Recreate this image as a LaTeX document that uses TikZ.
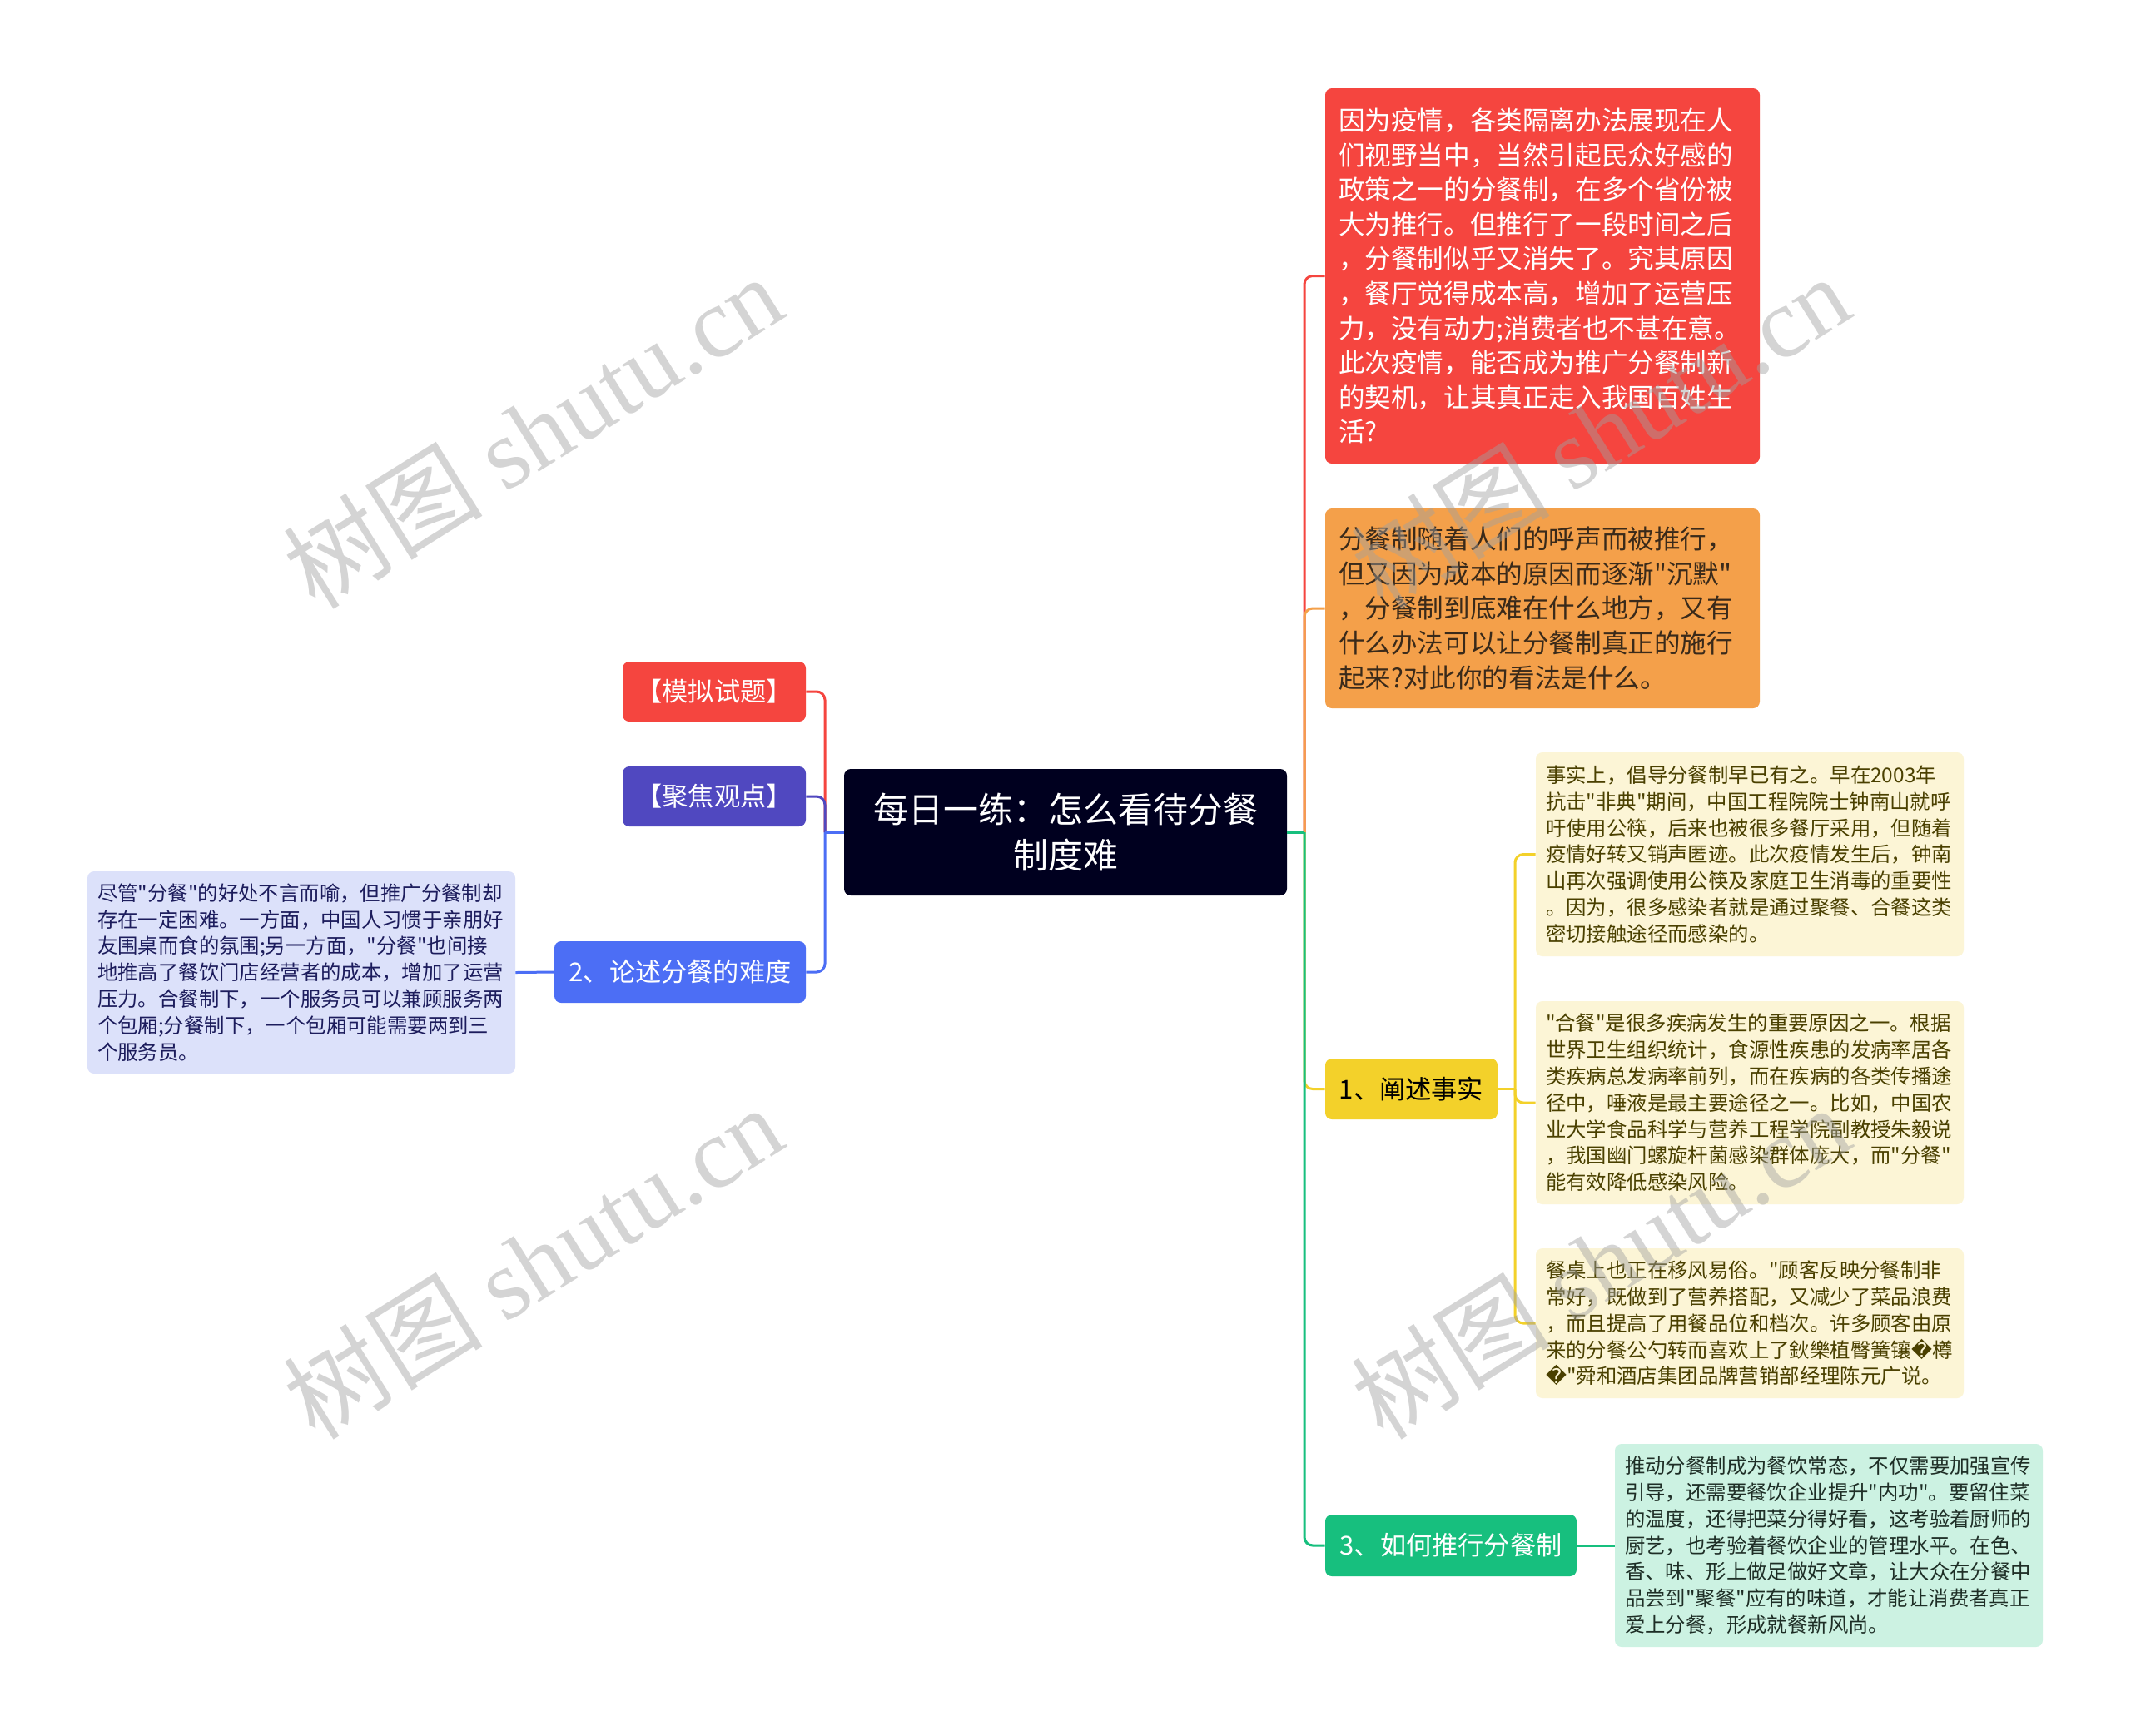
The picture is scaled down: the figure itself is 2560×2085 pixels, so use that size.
\documentclass[tikz,border=0pt]{standalone}
\usepackage{fontspec}
\setmainfont{Noto Sans CJK SC}
\newfontfamily\cjk{Noto Sans CJK SC}
\newfontfamily\wmserif{Liberation Serif}
\newfontfamily\djv{DejaVu Sans}
\definecolor{cRed}{HTML}{F5453F}
\definecolor{cPur}{HTML}{5048C0}
\definecolor{cBlue}{HTML}{4C6EF5}
\definecolor{cOra}{HTML}{F4A04A}
\definecolor{cYel}{HTML}{F3D12A}
\definecolor{cGrn}{HTML}{17BF7E}
\definecolor{cNavy}{HTML}{00001F}
\definecolor{fBlue}{HTML}{DCE1FA}
\definecolor{tBlue}{HTML}{1C1C5C}
\definecolor{fYel}{HTML}{FCF5D6}
\definecolor{tYel}{HTML}{4A4000}
\definecolor{fGrn}{HTML}{CCF2E2}
\definecolor{tGrn}{HTML}{1E2E26}
\definecolor{tOra}{HTML}{3A2A1A}
\definecolor{wmgray}{HTML}{A0A0A0}
\tikzset{
  base/.style={rounded corners=4pt, inner sep=0pt, draw=none},
  lvlone/.style={base, font=\cjk\fontsize{15.6}{18}\selectfont, align=center},
  detail/.style={base, font=\cjk\fontsize{12.2}{15.9}\selectfont, align=left, inner xsep=6pt, text width=245pt},
  bigbox/.style={base, font=\cjk\fontsize{15.8}{20.8}\selectfont, align=left, inner xsep=8pt, text width=245pt},
  conn/.style={line width=1.5pt, rounded corners=5pt},
  wm/.style={text=wmgray, opacity=0.45, font=\cjk\fontsize{60}{60}\selectfont, rotate=32, inner sep=0pt}
}
\begin{document}
\begin{tikzpicture}[x=0.5pt,y=-0.5pt]
\useasboundingbox (0,0) rectangle (2560,2085);
\fill[white] (0,0) rectangle (2560,2085);

% center
\node[base, fill=cNavy, text=white, minimum width=266pt, minimum height=76pt,
  font=\cjk\fontsize{21}{27.8}\selectfont, align=center] (ctr) at (1280,1000) {每日一练：怎么看待分餐\\制度难};

% left side
\node[lvlone, fill=cRed, text=white, minimum width=110pt, minimum height=36pt] (mn) at (858,831) {【模拟试题】};
\node[lvlone, fill=cPur, text=white, minimum width=110pt, minimum height=36pt] (jj) at (858,957) {【聚焦观点】};
\node[lvlone, fill=cBlue, text=white, minimum width=151pt, minimum height=37pt] (ls) at (817,1168) {2、论述分餐的难度};
\node[detail, fill=fBlue, text=tBlue, minimum height=121.5pt] (lsd) at (362,1168.5) {尽管"分餐"的好处不言而喻，但推广分餐制却\\存在一定困难。一方面，中国人习惯于亲朋好\\友围桌而食的氛围;另一方面，"分餐"也间接\\地推高了餐饮门店经营者的成本，增加了运营\\压力。合餐制下，一个服务员可以兼顾服务两\\个包厢;分餐制下，一个包厢可能需要两到三\\个服务员。};

% right side
\node[bigbox, fill=cRed, text=white, minimum height=225.5pt] (qa) at (1853,331.5) {因为疫情，各类隔离办法展现在人\\们视野当中，当然引起民众好感的\\政策之一的分餐制，在多个省份被\\大为推行。但推行了一段时间之后\\，分餐制似乎又消失了。究其原因\\，餐厅觉得成本高，增加了运营压\\力，没有动力;消费者也不甚在意。\\此次疫情，能否成为推广分餐制新\\的契机，让其真正走入我国百姓生\\活?};
\node[bigbox, fill=cOra, text=tOra, minimum height=120pt] (qb) at (1853,731) {分餐制随着人们的呼声而被推行，\\但又因为成本的原因而逐渐"沉默"\\，分餐制到底难在什么地方，又有\\什么办法可以让分餐制真正的施行\\起来?对此你的看法是什么。};
\node[lvlone, fill=cYel, text=black, minimum width=103.5pt, minimum height=36.5pt] (sa) at (1695.5,1308.5) {1、阐述事实};
\node[detail, fill=fYel, text=tYel, minimum height=122.5pt] (da) at (2102,1026.5) {事实上，倡导分餐制早已有之。早在2003年\\抗击"非典"期间，中国工程院院士钟南山就呼\\吁使用公筷，后来也被很多餐厅采用，但随着\\疫情好转又销声匿迹。此次疫情发生后，钟南\\山再次强调使用公筷及家庭卫生消毒的重要性\\。因为，很多感染者就是通过聚餐、合餐这类\\密切接触途径而感染的。};
\node[detail, fill=fYel, text=tYel, minimum height=122pt] (db) at (2102,1325) {"合餐"是很多疾病发生的重要原因之一。根据\\世界卫生组织统计，食源性疾患的发病率居各\\类疾病总发病率前列，而在疾病的各类传播途\\径中，唾液是最主要途径之一。比如，中国农\\业大学食品科学与营养工程学院副教授朱毅说\\，我国幽门螺旋杆菌感染群体庞大，而"分餐"\\能有效降低感染风险。};
\node[detail, fill=fYel, text=tYel, minimum height=90pt] (dc) at (2102,1590) {餐桌上也正在移风易俗。"顾客反映分餐制非\\常好，既做到了营养搭配，又减少了菜品浪费\\，而且提高了用餐品位和档次。许多顾客由原\\来的分餐公勺转而喜欢上了鈥樂植臀簧镶{\djv\char"FFFD}樽\\{\djv\char"FFFD}"舜和酒店集团品牌营销部经理陈元广说。};
\node[lvlone, fill=cGrn, text=white, minimum width=151pt, minimum height=37pt] (sc) at (1743,1857) {3、如何推行分餐制};
\node[detail, fill=fGrn, text=tGrn, minimum height=122pt] (ga) at (2197,1857) {推动分餐制成为餐饮常态，不仅需要加强宣传\\引导，还需要餐饮企业提升"内功"。要留住菜\\的温度，还得把菜分得好看，这考验着厨师的\\厨艺，也考验着餐饮企业的管理水平。在色、\\香、味、形上做足做好文章，让大众在分餐中\\品尝到"聚餐"应有的味道，才能让消费者真正\\爱上分餐，形成就餐新风尚。};

% junction coordinates
\coordinate (rt) at (1567,1000);
\coordinate (lt) at (991,1000);
\coordinate (yt) at (1820,1308.5);

% right connectors
\draw[conn, cRed] (rt) |- (qa.west);
\draw[conn, cOra] (rt) |- (qb.west);
\draw[conn, cYel] (rt) |- (sa.west);
\draw[conn, cGrn] (rt) |- (sc.west);
\draw[conn, cGrn] (ctr.east) -- (rt);
% left connectors
\draw[conn, cRed] (lt) |- (mn.east);
\draw[conn, cBlue] (lt) |- (ls.east);
\draw[conn, cPur] (lt) |- (jj.east);
\draw[conn, cBlue] (ctr.west) -- (lt);
\draw[conn, cBlue] (ls.west) -- (lsd.east);
% yellow children
\draw[conn, cYel] (sa.east) -- (yt);
\draw[conn, cYel] (yt) |- (da.west);
\draw[conn, cYel] (yt) |- (db.west);
\draw[conn, cYel] (yt) |- (dc.west);
% green child
\draw[conn, cGrn] (sc.east) -- (ga.west);

% watermarks
\node[wm] (wma) at (640,518) {树图 {\wmserif shutu.cn}};
\node[wm] (wmb) at (640,1516) {树图 {\wmserif shutu.cn}};
\node[wm] (wmc) at (1922,518) {树图 {\wmserif shutu.cn}};
\node[wm] (wmd) at (1922,1516) {树图 {\wmserif shutu.cn}};
\end{tikzpicture}
\end{document}
